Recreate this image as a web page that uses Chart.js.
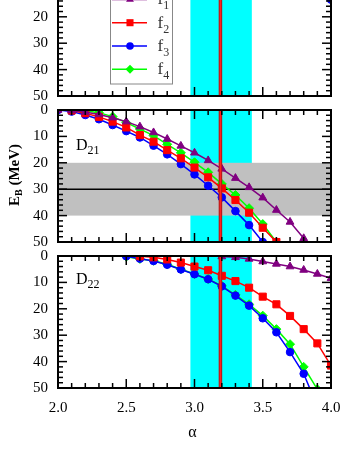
<!DOCTYPE html>
<html>
<head>
<meta charset="utf-8">
<script src="https://cdn.jsdelivr.net/npm/chart.js@4/dist/chart.umd.min.js"></script>
<style>
  html, body { margin: 0; padding: 0; background: #fff; overflow: hidden; }
  #wrap { position: relative; width: 361px; height: 468px; overflow: hidden; }
  #wrap canvas { position: absolute; left: 0; }
</style>
</head>
<body>
<div id="wrap">
  <canvas id="c1" width="361" height="152" style="top:-46px"></canvas>
  <canvas id="c2" width="361" height="152" style="top:100px"></canvas>
  <canvas id="c3" width="361" height="222" style="top:246px"></canvas>
</div>
<script>
// alpha grid shared by every series (null = no point)
const alphaGrid = [2.0, 2.1, 2.2, 2.3, 2.4, 2.5, 2.6, 2.7, 2.8, 2.9, 3.0,
                   3.1, 3.2, 3.3, 3.4, 3.5, 3.6, 3.7, 3.8, 3.9, 4.0];
const alphaTicks = [2.0, 2.5, 3.0, 3.5, 4.0];
const energyTicks = [0, 10, 20, 30, 40, 50];
const seriesSubs = ['1', '2', '3', '4'];

// top panel (mostly cut off): only the last f3 point shows
const topF3 = [null, null, null, null, null, null, null, null, null, null, null,
               null, null, null, null, null, null, null, null, null, 13.5];

// D21
const d21F1 = [0, 0.2, 0.8, 1.7, 2.9, 4.4, 6.3, 8.5, 11.0, 13.6, 16.2,
               19.1, 22.3, 25.8, 29.3, 33.2, 37.9, 42.4, 48.6, null, null];
const d21F2 = [null, 0.2, 1.2, 2.6, 4.4, 6.6, 9.5, 12.0, 15.2, 18.3, 21.8,
               25.5, 29.7, 34.1, 38.9, 44.6, 50.0, null, null, null, null];
const d21F3 = [0, 0.6, 1.9, 3.5, 5.7, 8.0, 10.4, 13.5, 16.8, 20.5, 24.4,
               28.7, 33.1, 38.3, 43.6, 50.0, null, null, null, null, null];
const d21F4 = [null, null, 0.3, 1.0, 2.5, 4.8, 7.2, 9.7, 13.0, 16.2, 19.8,
               23.6, 28.0, 32.2, 37.2, 43.2, 50.0, null, null, null, null];

// D22
const d22F1 = [null, null, null, null, null, null, null, null, null, null, null,
               null, 0.2, 0.5, 1.1, 2.1, 3.0, 4.0, 5.3, 6.8, 8.4];
const d22F2 = [null, null, null, null, null, null, 0.1, 0.5, 1.3, 2.5, 4.0,
               5.4, 7.5, 9.5, 12.0, 15.4, 18.3, 22.7, 27.7, 33.1, 41.5];
const d22F3 = [null, null, null, null, null, 0.1, 1.0, 1.9, 3.3, 5.1, 6.9,
               8.8, 11.5, 15.0, 18.8, 23.6, 28.9, 36.4, 44.6, 57, null];
const d22F4 = [null, null, null, null, null, 0.25, 1.1, 1.8, 3.15, 5.0, 6.8,
               8.7, 11.3, 14.7, 18.3, 22.6, 27.7, 33.4, 42.0, 50.5, null];

// bands / reference lines
const cyanBand = [2.97, 3.42];
const alphaFit = 3.19;
const d21Band = [20, 40];
const d21Line = 30;

const colors = ['#800080', '#ff0000', '#0000ff', '#00ff00'];
const styles = ['triangle', 'rect', 'circle', 'rectRot'];
const radii = [4.5, 5, 3.8, 4.5];
const serif = "'Liberation Serif', 'Times New Roman', serif";

function series(vals, k) {
  return {
    data: alphaGrid.map((a, i) => ({ x: a, y: vals[i] })).filter(p => p.y !== null),
    borderColor: colors[k],
    backgroundColor: colors[k],
    pointStyle: styles[k],
    pointRadius: radii[k],
    pointBorderWidth: 1,
    borderWidth: 1.5,
    tension: 0
  };
}

function seg(ctx, x0, y0, x1, y1) {
  ctx.beginPath(); ctx.moveTo(x0, y0); ctx.lineTo(x1, y1); ctx.stroke();
}

function marker(ctx, k, x, y) {
  const r = radii[k];
  ctx.fillStyle = colors[k];
  ctx.beginPath();
  if (k === 0) {
    ctx.moveTo(x, y - r); ctx.lineTo(x + r * 0.87, y + r * 0.5); ctx.lineTo(x - r * 0.87, y + r * 0.5);
  } else if (k === 1) {
    const s = r * Math.SQRT1_2; ctx.rect(x - s, y - s, 2 * s, 2 * s);
  } else if (k === 2) {
    ctx.arc(x, y, r, 0, Math.PI * 2);
  } else {
    ctx.moveTo(x, y - r); ctx.lineTo(x + r, y); ctx.lineTo(x, y + r); ctx.lineTo(x - r, y);
  }
  ctx.closePath(); ctx.fill();
}

function subText(ctx, x, y, main, sub, size, subSize, drop) {
  ctx.font = size + 'px ' + serif;
  ctx.fillText(main, x, y);
  const w = ctx.measureText(main).width;
  ctx.font = subSize + 'px ' + serif;
  ctx.fillText(sub, x + w, y + drop);
}

const panelPlugin = {
  id: 'panel',
  beforeDatasetsDraw(chart, args, opts) {
    const { ctx, chartArea: a, scales: { x, y } } = chart;
    ctx.save();
    ctx.beginPath(); ctx.rect(a.left, a.top, a.width, a.height); ctx.clip();
    const c0 = x.getPixelForValue(cyanBand[0]), c1 = x.getPixelForValue(cyanBand[1]);
    ctx.fillStyle = '#00ffff';
    ctx.fillRect(c0, a.top, c1 - c0, a.height);
    if (opts.band) {
      const b0 = y.getPixelForValue(d21Band[0]), b1 = y.getPixelForValue(d21Band[1]);
      ctx.fillStyle = '#c0c0c0';
      ctx.fillRect(a.left, b0, a.width, b1 - b0);
      const yl = y.getPixelForValue(d21Line);
      ctx.strokeStyle = '#000'; ctx.lineWidth = 1.5;
      seg(ctx, a.left, yl, a.right, yl);
    }
    ctx.restore();
  },
  afterDatasetsDraw(chart) {
    const { ctx, chartArea: a, scales: { x } } = chart;
    const xf = x.getPixelForValue(alphaFit);
    ctx.save();
    ctx.strokeStyle = '#b01818'; ctx.lineWidth = 3.5;
    seg(ctx, xf, a.top, xf, a.bottom);
    ctx.strokeStyle = '#ff2020'; ctx.lineWidth = 1.5;
    seg(ctx, xf, a.top, xf, a.bottom);
    ctx.restore();
  },
  afterDraw(chart, args, opts) {
    const { ctx, chartArea: a, scales: { x, y } } = chart;
    ctx.save();
    // inward ticks
    ctx.strokeStyle = '#000'; ctx.lineWidth = 1.5;
    for (let k = 0; k <= 20; k++) {
      const px = x.getPixelForValue(2 + k * 0.1);
      const L = k % 5 === 0 ? 9 : 5;
      seg(ctx, px, a.bottom, px, a.bottom - L);
      seg(ctx, px, a.top, px, a.top + L);
    }
    for (let v = 0; v <= 50; v += 2) {
      const py = y.getPixelForValue(v);
      const L = v % 10 === 0 ? 9 : 5;
      seg(ctx, a.left, py, a.left + L, py);
      seg(ctx, a.right, py, a.right - L, py);
    }
    // frame
    ctx.lineWidth = 2;
    ctx.strokeRect(a.left, a.top, a.width, a.height);

    ctx.fillStyle = '#000';
    ctx.textAlign = 'left'; ctx.textBaseline = 'alphabetic';
    if (opts.label) {
      subText(ctx, a.left + 18, a.top + opts.labelDy, 'D', opts.label, 16, 12, 4);
    }
    if (opts.legend) {
      const bx = a.left + 52.5, bw = 62, bottom = a.bottom - 12;
      ctx.strokeStyle = '#888'; ctx.lineWidth = 1;
      ctx.strokeRect(bx, bottom - 120, bw, 120);
      const offs = [-96.6, -73.3, -50, -26.7];
      for (let k = 0; k < 4; k++) {
        const ly = a.bottom + offs[k];
        ctx.strokeStyle = colors[k]; ctx.lineWidth = 1.5;
        seg(ctx, bx + 1.5, ly, bx + 36.5, ly);
        marker(ctx, k, bx + 19.5, ly);
        ctx.fillStyle = '#333';
        subText(ctx, bx + 47, ly + 5, 'f', seriesSubs[k], 17, 12, 5);
      }
    }
    if (opts.yTitle) {
      ctx.save();
      ctx.translate(15, a.top + a.height / 2 + 30);
      ctx.rotate(-Math.PI / 2);
      ctx.textBaseline = 'middle';
      ctx.fillStyle = '#000';
      ctx.font = 'bold 15px ' + serif;
      ctx.fillText('E', 0, 0);
      let w = ctx.measureText('E').width;
      ctx.font = 'bold 10px ' + serif;
      ctx.fillText('B', w, 4);
      w += ctx.measureText('B').width;
      ctx.font = 'bold 15px ' + serif;
      ctx.fillText(' (MeV)', w, 0);
      ctx.restore();
    }
    if (opts.xTitle) {
      ctx.textAlign = 'center'; ctx.textBaseline = 'middle';
      ctx.font = '16px ' + serif;
      ctx.fillText('\u03b1', (a.left + a.right) / 2 - 2, a.bottom + 45);
    }
    ctx.restore();
  }
};

function makePanel(id, datasets, panelOpts, showX, padTop, padBottom, xHeight) {
  new Chart(document.getElementById(id), {
    type: 'line',
    data: { datasets: datasets },
    plugins: [panelPlugin],
    options: {
      responsive: false,
      animation: false,
      layout: { padding: { left: 0, right: 30, top: padTop, bottom: padBottom } },
      plugins: { legend: { display: false }, tooltip: { enabled: false }, panel: panelOpts },
      scales: {
        x: {
          type: 'linear', min: 2, max: 4,
          display: showX,
          afterBuildTicks: s => { s.ticks = alphaTicks.map(v => ({ value: v })); },
          afterFit: s => { if (xHeight) s.height = xHeight; s.paddingLeft = 0; s.paddingRight = 0; },
          grid: { display: false, drawTicks: false },
          border: { display: false },
          ticks: { padding: 11, color: '#000', font: { family: serif, size: 15 },
                   callback: v => v.toFixed(1) }
        },
        y: {
          type: 'linear', min: 0, max: 50, reverse: true,
          afterBuildTicks: s => { s.ticks = energyTicks.map(v => ({ value: v })); },
          afterFit: s => { s.width = 58; s.paddingTop = 0; s.paddingBottom = 0; },
          grid: { display: false, drawTicks: false },
          border: { display: false },
          ticks: { padding: 10, color: '#000', font: { family: serif, size: 15 } }
        }
      }
    }
  });
}

makePanel('c1', [series(topF3, 2)], { legend: true }, false, 10, 10, 0);
makePanel('c2', [series(d21F1, 0), series(d21F2, 1), series(d21F3, 2), series(d21F4, 3)],
          { band: true, label: '21', labelDy: 40, yTitle: true }, false, 10, 10, 0);
makePanel('c3', [series(d22F1, 0), series(d22F2, 1), series(d22F3, 2), series(d22F4, 3)],
          { label: '22', labelDy: 28, xTitle: true }, true, 10, 0, 80);
</script>
</body>
</html>
